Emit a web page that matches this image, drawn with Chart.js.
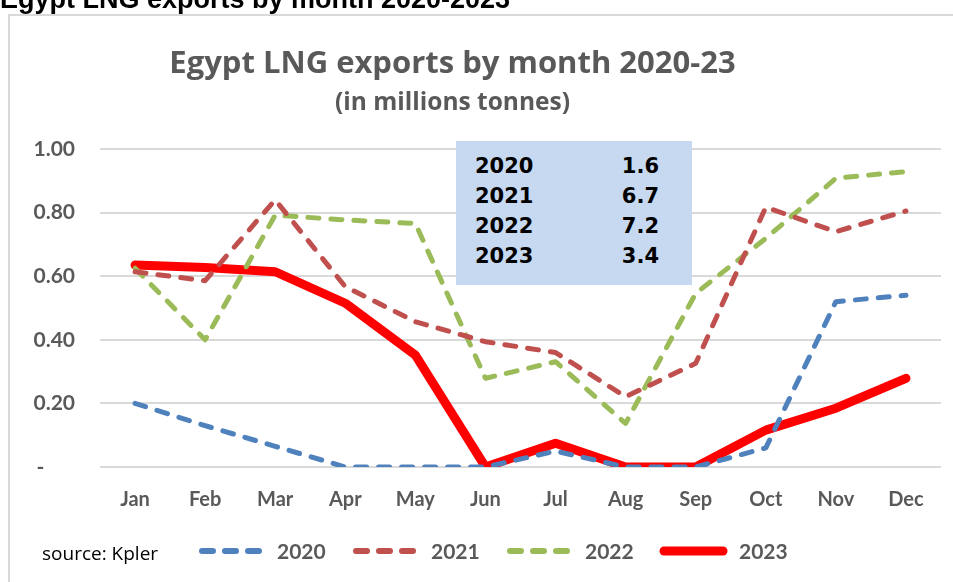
<!DOCTYPE html>
<html>
<head>
<meta charset="utf-8">
<script src="https://cdn.jsdelivr.net/npm/chart.js@4.4.1/dist/chart.umd.min.js"></script>
<style>
  html, body { margin: 0; padding: 0; background: #fff; }
  body { width: 953px; height: 582px; position: relative; overflow: hidden; }
  #frame { position: absolute; left: 8px; top: 14px; width: 960px; height: 600px; border: 2px solid #d9d9d9; box-sizing: border-box; }
  #wrap { position: absolute; left: 0; top: 0; width: 953px; height: 582px; }
  .txt { position: absolute; white-space: nowrap; line-height: 1; }
  #hdr { left: 0px; top: -16px; font: bold 27px "Liberation Sans", Arial, sans-serif; color: #000; }
  #title { left: 0; width: 905px; text-align: center; top: 40px; font: bold 31px "Open Sans", sans-serif; color: #595959; }
  #subtitle { left: 0; width: 905px; text-align: center; top: 84px; font: bold 24.5px "Open Sans", sans-serif; color: #595959; }
  #source { left: 42px; top: 540px; font: 19px "Open Sans", sans-serif; color: #000; }
  #box { position: absolute; left: 456px; top: 141px; width: 236px; height: 144px; background: #c6d9f0; }
  .row { position: absolute; font: bold 21px "DejaVu Sans", sans-serif; color: #000; line-height: 1; }
  .yr { left: 19px; }
  .val { right: 33px; text-align: right; }
</style>
</head>
<body>
<div id="frame"></div>
<div id="wrap"><canvas id="c" width="953" height="582"></canvas></div>
<div class="txt" id="hdr">Egypt LNG exports by month 2020-2023</div>
<div class="txt" id="title">Egypt LNG exports by month 2020-23</div>
<div class="txt" id="subtitle">(in millions tonnes)</div>
<div class="txt" id="source">source: Kpler</div>
<div id="box"></div>
<script>
const months = ['Jan','Feb','Mar','Apr','May','Jun','Jul','Aug','Sep','Oct','Nov','Dec'];
const years = ['2020','2021','2022','2023'];
const totals = ['1.6','6.7','7.2','3.4'];
const exports2020 = [0.20, 0.13, 0.065, 0.0, 0.0, 0.0, 0.05, 0.0, 0.0, 0.06, 0.52, 0.54];
const exports2021 = [0.614, 0.586, 0.84, 0.567, 0.457, 0.394, 0.36, 0.221, 0.326, 0.817, 0.74, 0.805];
const exports2022 = [0.625, 0.40, 0.792, 0.777, 0.766, 0.279, 0.331, 0.137, 0.546, 0.719, 0.908, 0.929];
const exports2023 = [0.635, 0.627, 0.614, 0.515, 0.352, 0.0, 0.075, 0.0, 0.0, 0.116, 0.185, 0.279];
const yTicks = [0, 0.2, 0.4, 0.6, 0.8, 1.0];

// summary box rows
const box = document.getElementById('box');
years.forEach((y, i) => {
  const a = document.createElement('div');
  a.className = 'row yr'; a.style.top = (15 + i * 30) + 'px'; a.textContent = y; box.appendChild(a);
  const b = document.createElement('div');
  b.className = 'row val'; b.style.top = (15 + i * 30) + 'px'; b.textContent = totals[i]; box.appendChild(b);
});

const FONT = 'Lato, sans-serif';
const GRAY = '#595959';

// legend drawn from the datasets' own styles
const bottomLegend = {
  id: 'bottomLegend',
  afterDraw(chart) {
    const ctx = chart.ctx;
    const y = 551;
    let x = 202;
    ctx.save();
    ctx.font = 'bold 21px ' + FONT;
    ctx.textBaseline = 'middle';
    ctx.textAlign = 'left';
    chart.data.datasets.forEach((d) => {
      ctx.beginPath();
      ctx.strokeStyle = d.borderColor;
      ctx.lineWidth = d.legendWidth;
      ctx.lineCap = 'round';
      ctx.setLineDash(d.borderDash || []);
      ctx.moveTo(x, y);
      ctx.lineTo(x + 59, y);
      ctx.stroke();
      ctx.setLineDash([]);
      ctx.fillStyle = GRAY;
      ctx.fillText(d.label, x + 75, y + 1);
      x += 154;
    });
    ctx.restore();
  }
};

const dashed = (label, data, color) => ({
  label, data, borderColor: color, backgroundColor: color,
  borderWidth: 5, borderDash: [11, 12], borderCapStyle: 'round', borderJoinStyle: 'round',
  pointRadius: 0, tension: 0, fill: false, legendWidth: 6
});

new Chart(document.getElementById('c'), {
  type: 'line',
  data: {
    labels: months,
    datasets: [
      dashed(years[0], exports2020, '#4f81bd'),
      dashed(years[1], exports2021, '#c0504d'),
      dashed(years[2], exports2022, '#9bbb59'),
      { label: years[3], data: exports2023, borderColor: '#ff0000', backgroundColor: '#ff0000',
        borderWidth: 9, borderCapStyle: 'round', borderJoinStyle: 'round', pointRadius: 0, tension: 0, fill: false,
        legendWidth: 9 }
    ]
  },
  options: {
    responsive: false,
    animation: false,
    layout: { padding: { top: 149, left: 0, right: 12, bottom: 0 } },
    scales: {
      x: {
        offset: true,
        grid: { display: false, drawTicks: false },
        border: { display: false },
        ticks: { color: GRAY, font: { family: FONT, size: 20, weight: 'bold' }, padding: 21, maxRotation: 0 },
        afterFit(s) { s.height = 115; }
      },
      y: {
        min: 0, max: 1.0,
        afterBuildTicks(s) { s.ticks = yTicks.map(v => ({ value: v })); },
        grid: { color: '#d9d9d9', lineWidth: 2, drawTicks: false },
        border: { display: false },
        ticks: {
          color: GRAY, font: { family: FONT, size: 21, weight: 'bold' }, padding: 25,
          callback: (v) => v === 0 ? '-      ' : v.toFixed(2)
        },
        afterFit(s) { s.width = 100; }
      }
    },
    plugins: {
      title: { display: false },
      tooltip: { enabled: false },
      legend: { display: false }
    }
  },
  plugins: [bottomLegend]
});
</script>
</body>
</html>
